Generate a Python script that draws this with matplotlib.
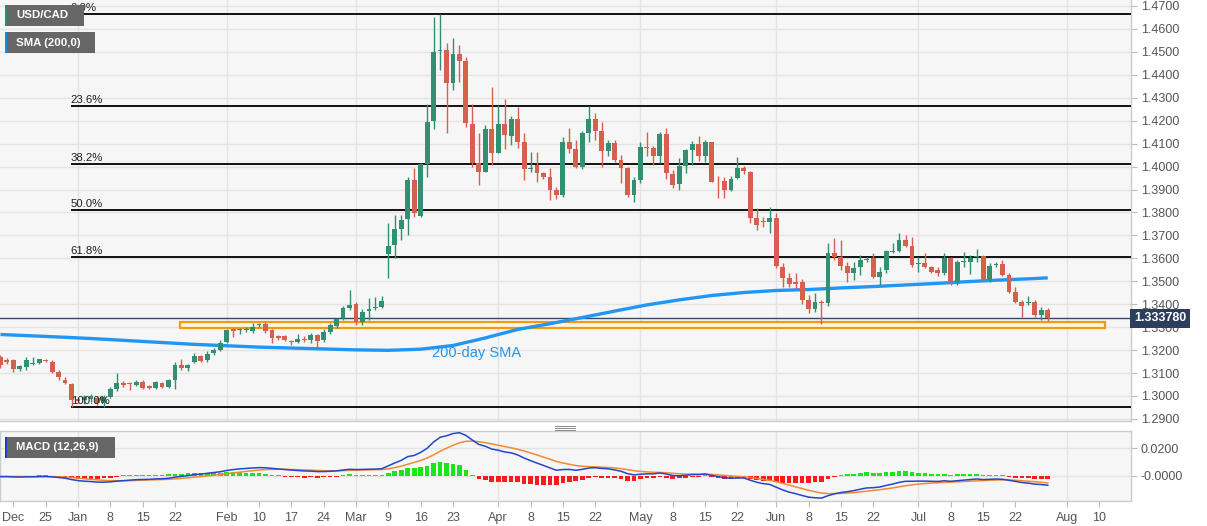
import numpy as np
import pandas as pd
import matplotlib
matplotlib.use("Agg")
import matplotlib.pyplot as plt
from matplotlib.patches import Rectangle
from matplotlib.lines import Line2D
import matplotlib.transforms as mtransforms

plt.rcParams['font.family'] = ['Liberation Sans', 'DejaVu Sans']

# ---------------- data ----------------
start_date = "2019-12-16"
end_date = "2020-07-29"

opens = [
    1.3170, 1.3155, 1.3155, 1.3117, 1.3125, 1.3140, 1.3142, 1.3158, 1.3150, 1.3103, 1.3070, 1.3052,
    1.2985, 1.2982, 1.2985, 1.2990, 1.2970, 1.2994, 1.3029, 1.3057, 1.3057, 1.3050, 1.3062, 1.3043,
    1.3034, 1.3057, 1.3039, 1.3070, 1.3135, 1.3121, 1.3150, 1.3174, 1.3157, 1.3188, 1.3200,
    1.3237, 1.3292, 1.3287, 1.3288, 1.3284, 1.3311, 1.3312, 1.3288, 1.3262, 1.3262, 1.3240, 1.3236,
    1.3248, 1.3242, 1.3265, 1.3245, 1.3280, 1.3305, 1.3339, 1.3382,
    1.3401, 1.3324, 1.3372, 1.3382, 1.3387, 1.3619, 1.3658, 1.3727, 1.3770, 1.3942, 1.3785, 1.4011,
    1.4200, 1.4505, 1.4508, 1.4363, 1.4491, 1.4462, 1.4186, 1.4014, 1.3978, 1.4162,
    1.4061, 1.4186, 1.4135, 1.4206, 1.4105, 1.3989, 1.4007, 1.3971, 1.3953, 1.3898, 1.3876, 1.4109,
    1.4077, 1.3997, 1.4148, 1.4206, 1.4157, 1.4069, 1.4101, 1.4029, 1.3995, 1.3876,
    1.3942, 1.4084, 1.4081, 1.4047, 1.4141, 1.3968, 1.3923, 1.4003, 1.4072, 1.4097, 1.4047, 1.4105,
    1.3938, 1.3938, 1.3898, 1.3950, 1.3995, 1.3978, 1.3774, 1.3760, 1.3757,
    1.3778, 1.3564, 1.3513, 1.3496, 1.3499, 1.3418, 1.3378, 1.3411, 1.3407, 1.3622, 1.3607, 1.3567,
    1.3538, 1.3561, 1.3593, 1.3600, 1.3518, 1.3547, 1.3629, 1.3633, 1.3680, 1.3654,
    1.3575, 1.3581, 1.3561, 1.3547, 1.3535, 1.3600, 1.3499, 1.3585, 1.3585, 1.3607, 1.3610, 1.3506,
    1.3571, 1.3574, 1.3528, 1.3455, 1.3411, 1.3404, 1.3411, 1.3353, 1.3375,
]
highs = [
    1.3178, 1.3165, 1.3163, 1.3133, 1.3171, 1.3168, 1.3163, 1.3162, 1.3155, 1.3113, 1.3082, 1.3058,
    1.2995, 1.3003, 1.3010, 1.3000, 1.3003, 1.3041, 1.3099, 1.3066, 1.3063, 1.3070, 1.3068, 1.3048,
    1.3064, 1.3062, 1.3072, 1.3150, 1.3160, 1.3140, 1.3188, 1.3180, 1.3195, 1.3210, 1.3245,
    1.3292, 1.3297, 1.3297, 1.3300, 1.3318, 1.3320, 1.3322, 1.3292, 1.3267, 1.3268, 1.3246, 1.3269,
    1.3262, 1.3275, 1.3270, 1.3290, 1.3320, 1.3340, 1.3392, 1.3462,
    1.3411, 1.3378, 1.3426, 1.3433, 1.3436, 1.3755, 1.3789, 1.3789, 1.3956, 1.3992, 1.4014, 1.4273,
    1.4654, 1.4667, 1.4537, 1.4559, 1.4530, 1.4479, 1.4273, 1.4148, 1.4181, 1.4345,
    1.4268, 1.4293, 1.4220, 1.4261, 1.4145, 1.4065, 1.4064, 1.3975, 1.3995, 1.3912, 1.4130, 1.4167,
    1.4115, 1.4155, 1.4264, 1.4232, 1.4196, 1.4116, 1.4116, 1.4051, 1.4000, 1.3953,
    1.4106, 1.4150, 1.4088, 1.4151, 1.4166, 1.3986, 1.4036, 1.4075, 1.4111, 1.4135, 1.4116, 1.4108,
    1.3960, 1.3953, 1.3960, 1.4043, 1.4003, 1.3980, 1.3818, 1.3782, 1.3825,
    1.3796, 1.3578, 1.3535, 1.3535, 1.3510, 1.3440, 1.3448, 1.3420, 1.3665, 1.3687, 1.3680, 1.3585,
    1.3585, 1.3615, 1.3607, 1.3622, 1.3564, 1.3636, 1.3665, 1.3709, 1.3702, 1.3695,
    1.3607, 1.3622, 1.3566, 1.3564, 1.3622, 1.3607, 1.3593, 1.3629, 1.3614, 1.3639, 1.3614, 1.3578,
    1.3585, 1.3593, 1.3535, 1.3476, 1.3418, 1.3436, 1.3418, 1.3389, 1.3382,
]
lows = [
    1.3120, 1.3140, 1.3105, 1.3108, 1.3115, 1.3135, 1.3138, 1.3150, 1.3099, 1.3070, 1.3052, 1.2953,
    1.2970, 1.2965, 1.2975, 1.2960, 1.2952, 1.2990, 1.3023, 1.3040, 1.3026, 1.3042, 1.3030, 1.3030,
    1.3030, 1.3035, 1.3034, 1.3030, 1.3113, 1.3110, 1.3145, 1.3148, 1.3150, 1.3180, 1.3195,
    1.3233, 1.3259, 1.3270, 1.3280, 1.3276, 1.3302, 1.3276, 1.3230, 1.3245, 1.3240, 1.3223, 1.3230,
    1.3235, 1.3230, 1.3207, 1.3235, 1.3270, 1.3295, 1.3331, 1.3375,
    1.3309, 1.3309, 1.3331, 1.3375, 1.3382, 1.3513, 1.3600, 1.3680, 1.3702, 1.3782, 1.3782, 1.3956,
    1.4162, 1.4421, 1.4145, 1.4334, 1.4370, 1.4174, 1.4000, 1.3920, 1.3975, 1.4007,
    1.4058, 1.4077, 1.4095, 1.4080, 1.3942, 1.3978, 1.3934, 1.3945, 1.3854, 1.3857, 1.3869, 1.4058,
    1.3995, 1.3990, 1.4109, 1.4117, 1.3997, 1.4047, 1.4022, 1.3930, 1.3869, 1.3844,
    1.3927, 1.4047, 1.4007, 1.4016, 1.3948, 1.3905, 1.3898, 1.3971, 1.4007, 1.4026, 1.4022, 1.3932,
    1.3862, 1.3862, 1.3894, 1.3948, 1.3968, 1.3753, 1.3724, 1.3738, 1.3709,
    1.3556, 1.3477, 1.3474, 1.3465, 1.3400, 1.3360, 1.3365, 1.3315, 1.3392, 1.3593, 1.3550, 1.3499,
    1.3506, 1.3528, 1.3585, 1.3513, 1.3485, 1.3535, 1.3625, 1.3629, 1.3651, 1.3564,
    1.3542, 1.3557, 1.3538, 1.3521, 1.3528, 1.3484, 1.3484, 1.3564, 1.3532, 1.3585, 1.3503, 1.3499,
    1.3564, 1.3521, 1.3448, 1.3407, 1.3343, 1.3396, 1.3345, 1.3331, 1.3328,
]
closes = [
    1.3135, 1.3148, 1.3118, 1.3129, 1.3157, 1.3143, 1.3160, 1.3153, 1.3106, 1.3082, 1.3055, 1.2982,
    1.2980, 1.2997, 1.3000, 1.2968, 1.2994, 1.3029, 1.3055, 1.3050, 1.3053, 1.3062, 1.3034, 1.3036,
    1.3059, 1.3039, 1.3068, 1.3135, 1.3121, 1.3135, 1.3174, 1.3152, 1.3185, 1.3200, 1.3230,
    1.3288, 1.3284, 1.3290, 1.3294, 1.3302, 1.3314, 1.3284, 1.3252, 1.3254, 1.3244, 1.3236, 1.3248,
    1.3242, 1.3265, 1.3240, 1.3280, 1.3308, 1.3334, 1.3382, 1.3397,
    1.3324, 1.3367, 1.3378, 1.3385, 1.3414, 1.3655, 1.3727, 1.3767, 1.3942, 1.3799, 1.4011, 1.4196,
    1.4501, 1.4508, 1.4363, 1.4491, 1.4462, 1.4189, 1.4014, 1.3978, 1.4162, 1.4061,
    1.4186, 1.4138, 1.4206, 1.4105, 1.3989, 1.3995, 1.3971, 1.3953, 1.3898, 1.3876, 1.4109, 1.4077,
    1.3997, 1.4148, 1.4206, 1.4157, 1.4069, 1.4101, 1.4029, 1.3995, 1.3876, 1.3942,
    1.4084, 1.4081, 1.4047, 1.4141, 1.3971, 1.3920, 1.4003, 1.4072, 1.4097, 1.4047, 1.4105, 1.3934,
    1.3935, 1.3898, 1.3946, 1.3995, 1.3979, 1.3774, 1.3745, 1.3757, 1.3778,
    1.3568, 1.3513, 1.3488, 1.3490, 1.3418, 1.3378, 1.3411, 1.3407, 1.3622, 1.3607, 1.3567, 1.3538,
    1.3557, 1.3593, 1.3596, 1.3518, 1.3542, 1.3632, 1.3632, 1.3680, 1.3654, 1.3571,
    1.3581, 1.3561, 1.3542, 1.3535, 1.3600, 1.3499, 1.3585, 1.3588, 1.3600, 1.3610, 1.3506, 1.3568,
    1.3574, 1.3528, 1.3455, 1.3411, 1.3392, 1.3407, 1.3353, 1.3375, 1.3338,
]

sma_dates = ["2019-12-16", "2019-12-23", "2019-12-30", "2020-01-06", "2020-01-13", "2020-01-20",
             "2020-01-27", "2020-02-03", "2020-02-10", "2020-02-17", "2020-02-24", "2020-03-02",
             "2020-03-09", "2020-03-16", "2020-03-23", "2020-03-30", "2020-04-06", "2020-04-13",
             "2020-04-20", "2020-04-27", "2020-05-04", "2020-05-11", "2020-05-18", "2020-05-25",
             "2020-06-01", "2020-06-08", "2020-06-15", "2020-06-22", "2020-06-29", "2020-07-06",
             "2020-07-13", "2020-07-20", "2020-07-27", "2020-07-29"]
sma_values = [1.3268, 1.3262, 1.3256, 1.3249, 1.3241, 1.3233, 1.3225, 1.3219, 1.3213, 1.3209,
              1.3205, 1.3201, 1.3199, 1.3204, 1.3220, 1.3253, 1.3290, 1.3315, 1.3342, 1.3370,
              1.3397, 1.3419, 1.3438, 1.3451, 1.3460, 1.3464, 1.3471, 1.3477, 1.3484, 1.3491,
              1.3499, 1.3506, 1.3512, 1.3515]

fib_high = 1.4667
fib_low = 1.2952
fib_ratios = [0.0, 0.236, 0.382, 0.5, 0.618, 1.0]
fib_labels = ["0.0%", "23.6%", "38.2%", "50.0%", "61.8%", "100.0%"]

zone_low = 1.3298
zone_high = 1.3321
zone_start = "2020-01-22"
zone_end = "2020-08-10"
last_price = 1.33378

# MACD seeds (state of the EMAs before the first visible day)
ema12_seed = 1.3152
ema26_seed = 1.3156
signal_seed = -0.0002

tick_dates = ["2019-12-18", "2019-12-25", "2020-01-01", "2020-01-08", "2020-01-15", "2020-01-22",
              "2020-02-03", "2020-02-10", "2020-02-17", "2020-02-24", "2020-03-02", "2020-03-09",
              "2020-03-16", "2020-03-23", "2020-04-01", "2020-04-08", "2020-04-15", "2020-04-22",
              "2020-05-01", "2020-05-08", "2020-05-15", "2020-05-22", "2020-06-01", "2020-06-08",
              "2020-06-15", "2020-06-22", "2020-07-01", "2020-07-08", "2020-07-15", "2020-07-22",
              "2020-08-03", "2020-08-10"]
tick_labels = ["Dec", "25", "Jan", "8", "15", "22", "Feb", "10", "17", "24", "Mar", "9", "16", "23",
               "Apr", "8", "15", "22", "May", "8", "15", "22", "Jun", "8", "15", "22", "Jul", "8",
               "15", "22", "Aug", "10"]
month_starts = ["2020-01-01", "2020-02-03", "2020-03-02", "2020-04-01", "2020-05-01",
                "2020-06-01", "2020-07-01", "2020-08-03"]

# ---------------- derived ----------------
dates = pd.bdate_range(start_date, end_date)
axis_dates = pd.bdate_range(start_date, "2020-08-31")
pos = np.arange(len(dates))
o = np.array(opens); h = np.array(highs); l = np.array(lows); c = np.array(closes)


def loc(d):
    return axis_dates.get_loc(pd.Timestamp(d))


def ema(vals, n, seed):
    a = 2.0 / (n + 1)
    out = []
    e = seed
    for v in vals:
        e = e + a * (v - e)
        out.append(e)
    return np.array(out)


macd = ema(c, 12, ema12_seed) - ema(c, 26, ema26_seed)
signal = ema(macd, 9, signal_seed)
hist = macd - signal

W, H = 1207, 526
fig = plt.figure(figsize=(W / 100, H / 100), dpi=100, facecolor='white')


def fx(px):
    return px / W


def fy(py):
    return 1 - py / H


ax = fig.add_axes([0, fy(421), fx(1131), (421) / H])
ax2 = fig.add_axes([0, fy(501), fx(1131), (501 - 431) / H])

px_per_day = 6.465
x_left = -0.42 / px_per_day
x_right = x_left + 1131 / px_per_day

UP = '#338f72'
DN = '#d6604d'
BG = '#f6f6f6'
GRID = '#e3e3e3'
SPINE = '#cccccc'
TXT = '#555555'

for a in (ax, ax2):
    a.set_facecolor(BG)
    a.set_xlim(x_left, x_right)
    for s in a.spines.values():
        s.set_color(SPINE)
        s.set_linewidth(1)
    for d in month_starts:
        a.axvline(loc(d), color=GRID, lw=1, zorder=0)

ax.spines['left'].set_visible(False)
ax.spines['top'].set_visible(False)

# main axis
ax.set_ylim(1.47 - 415 / 2294, 1.47 + 6 / 2294)
yt = np.round(np.arange(1.29, 1.4701, 0.01), 4)
ax.set_yticks(yt)
ax.set_yticklabels([f"{v:.4f}" for v in yt])
ax.yaxis.tick_right()
ax.tick_params(axis='y', direction='out', length=4, color='#bbbbbb', labelcolor=TXT,
               labelsize=9, pad=3)
ax.set_xticks([])
ax.yaxis.grid(True, color=GRID, lw=1, zorder=0)
ax.set_axisbelow(True)

# resistance/support zone
zx0 = loc(zone_start) + 0.8
zx1 = loc(zone_end) + 0.9
ax.add_patch(Rectangle((zx0, zone_low), zx1 - zx0, zone_high - zone_low,
                       facecolor='#fff4e2', edgecolor='#f29a12', lw=1.6, zorder=2))

# fib levels
fib_x0 = 70.6 / px_per_day + x_left
for r, lab in zip(fib_ratios, fib_labels):
    lvl = fib_high - r * (fib_high - fib_low)
    ax.hlines(lvl, fib_x0, x_right, color='black', lw=1.3, zorder=3)
    ax.text(fib_x0, lvl + 0.0004, lab, fontsize=8.2, color='#222222', va='bottom', ha='left', zorder=6)

# current price line
ax.axhline(last_price, color='#34466a', lw=1, zorder=3)

# SMA
sma_x = [loc(d) for d in sma_dates]
ax.plot(sma_x, sma_values, color='#2196f3', lw=2.4, zorder=4, solid_capstyle='butt')
ax.text(loc("2020-03-18") - 0.2, 1.3187, "200-day SMA", color='#2196f3', fontsize=10.5,
        va='center', ha='left', zorder=6)

# candles
up = c >= o
cols = np.where(up, UP, DN)
ax.vlines(pos, l, h, colors=cols, lw=1, zorder=5)
body_bot = np.minimum(o, c)
body_h = np.maximum(np.abs(c - o), 0.0004)
ax.bar(pos, body_h, bottom=body_bot, width=0.75, color=cols, edgecolor='none', zorder=5)

# current price box
trans = mtransforms.blended_transform_factory(ax.transAxes, ax.transData)
ax.text(1.0025, last_price, f"{last_price:.6f}", transform=trans, ha='left', va='center',
        color='white', fontsize=9, fontweight='bold', clip_on=False, zorder=10,
        bbox=dict(boxstyle='square,pad=0.28', fc='#2b3e5e', ec='none'))

# MACD axis
ax2.set_ylim(-25 / 1385, 45 / 1385)
ax2.set_yticks([0.0, 0.02])
ax2.set_yticklabels(["-0.0000", "0.0200"])
ax2.yaxis.tick_right()
ax2.tick_params(axis='y', direction='out', length=4, color='#bbbbbb', labelcolor=TXT,
                labelsize=9, pad=3)
ax2.yaxis.grid(True, color=GRID, lw=1, zorder=0)
ax2.set_axisbelow(True)
ax2.set_xticks([loc(d) for d in tick_dates])
ax2.set_xticklabels(tick_labels)
ax2.tick_params(axis='x', direction='out', length=4, color='#bbbbbb', labelcolor=TXT,
                labelsize=9, pad=4)

hcol = np.where(hist >= 0, '#19e619', '#ff1a1a')
hb = np.minimum(hist, 0) - 0.00035
hh = np.abs(hist) + 0.0007
ax2.bar(pos, hh, bottom=hb, width=0.72, color=hcol, edgecolor='none', zorder=3)
ax2.plot(pos, signal, color='#f08a33', lw=1.1, zorder=4)
ax2.plot(pos, macd, color='#2545c8', lw=1.1, zorder=5)

# legend boxes


def legend_box(x0, y0, x1, y1, stripe, text):
    fig.add_artist(Rectangle((fx(x0), fy(y1)), fx(x1 - x0), (y1 - y0) / H,
                             transform=fig.transFigure, fc='#666666', ec='none', zorder=20))
    fig.add_artist(Rectangle((fx(x0), fy(y1)), fx(2), (y1 - y0) / H,
                             transform=fig.transFigure, fc=stripe, ec='none', zorder=21))
    fig.text(fx(x0 + 11), fy((y0 + y1) / 2), text, color='white', fontsize=8.2, fontweight='bold',
             va='center', ha='left', zorder=22)


legend_box(5, 5, 84, 26, '#2e8b72', "USD/CAD")
legend_box(5, 32, 95, 53, '#1e88e5', "SMA (200,0)")
legend_box(5, 437, 115, 458, '#1a3fc4', "MACD (12,26,9)")

# panel drag handle
for yy in (425.5, 427.7, 429.9):
    fig.add_artist(Line2D([fx(555), fx(575)], [fy(yy), fy(yy)], transform=fig.transFigure,
                          color='#8a8a8a', lw=0.7))

fig.savefig("out.png", dpi=100, facecolor='white')
